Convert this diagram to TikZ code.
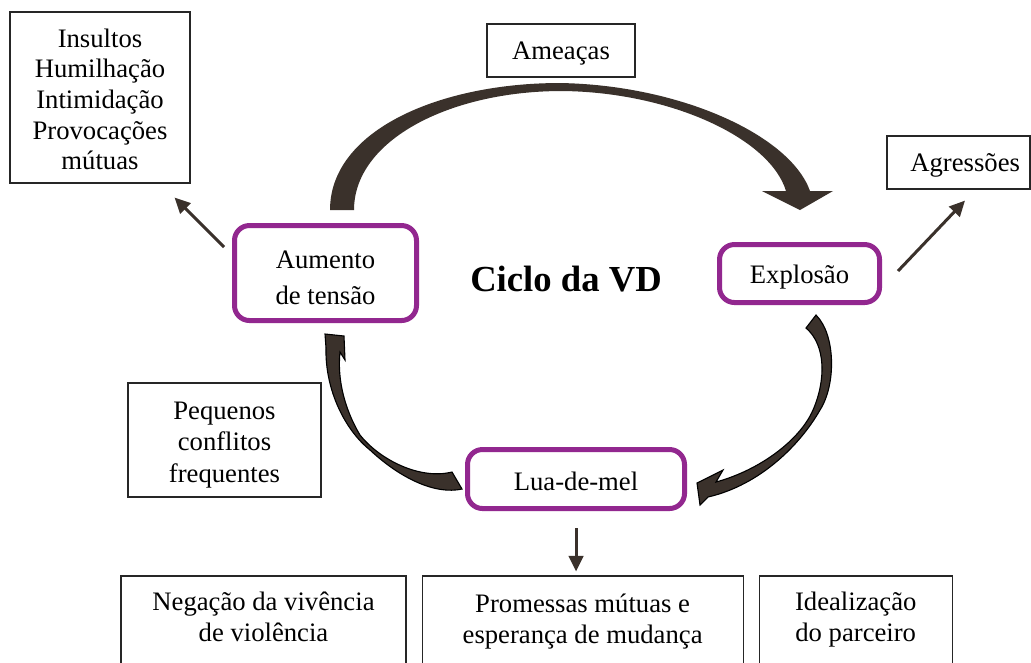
\documentclass[tikz,border=0pt]{standalone}
\usepackage{fontspec}
\setmainfont{Liberation Serif}
\usetikzlibrary{arrows.meta, positioning}
\definecolor{vdpurple}{RGB}{146,39,143}
\definecolor{vdbrown}{RGB}{58,49,43}
\tikzset{
  phase/.style={draw=vdpurple, line width=2.25pt, rounded corners=6.75pt, align=center, inner sep=0pt},
  note/.style={draw=black!85, line width=0.5pt, align=center, inner sep=0pt},
  link/.style={vdbrown, line width=1.35pt, -{Triangle[length=7pt,width=6.5pt]}},
  bigarrow/.style={fill=vdbrown, draw=black, line width=0.5pt}
}

\begin{document}
\begin{tikzpicture}[x=0.45pt, y=-0.45pt, font=\fontsize{12}{13.8}\selectfont]
          \clip (0,0) rectangle (1031,662);
          \fill[white] (0,0) rectangle (1031,662);

          \node[phase, minimum width=81.9pt, minimum height=42.75pt, text height=35.675pt, text depth=7.075pt, font=\fontsize{12}{16.2}\selectfont] (aum) at (325.5,273) {Aumento\\de tensão};
          \node[phase, minimum width=72pt, minimum height=26.1pt, text height=17.65pt, text depth=8.45pt] (exp) at (799.5,273.5) {Explosão};
          \node[phase, minimum width=97.65pt, minimum height=26.55pt, text height=18.275pt, text depth=8.275pt] (lua) at (576,479) {Lua-de-mel};
          \node[font=\bfseries\fontsize{16.5}{19}\selectfont] (tit) at (566,279) {Ciclo da VD};

          \node[note, minimum width=81pt, minimum height=76.95pt, text height=71.075pt, text depth=5.875pt] (ins) at (100,97.5) {Insultos\\Humilhação\\Intimidação\\Provocações\\mútuas};
          \node[note, minimum width=66.6pt, minimum height=23.85pt, text height=15.975pt, text depth=7.875pt] (ame) at (561,50.5) {Ameaças};
          \node[note, minimum height=23.85pt, text height=16.125pt, text depth=7.725pt, inner xsep=4.5pt, text width=55.35pt, align=right] (agr) at (958.5,162.5) {Agressões};
          \node[note, minimum width=86.85pt, minimum height=51.3pt, text height=44.75pt, text depth=6.55pt, font=\fontsize{12}{14.2}\selectfont] (peq) at (224.5,440) {Pequenos\\conflitos\\frequentes};
          \node[note, minimum width=128.25pt, minimum height=40.5pt, text height=29.52pt, text depth=10.98pt] (neg) at (263.5,621) {Negação da vivência\\de violência};
          \node[note, minimum width=144.45pt, minimum height=40.5pt, text height=30.42pt, text depth=10.08pt, right=6.75pt of neg] (pro) {Promessas mútuas e\\esperança de mudança};
          \node[note, minimum width=86.85pt, minimum height=40.5pt, text height=29.52pt, text depth=10.98pt, right=6.75pt of pro] (ide) {Idealização\\do parceiro};

          % big arcs of the cycle
          \fill[vdbrown] (330,210) .. controls (330,130) and (440,83) .. (560,83) .. controls (680,85) and (790,135) .. (810,191) -- (833,191) -- (800,210) -- (762,191) -- (786,191) .. controls (770,138) and (670,92) .. (562,91) .. controls (450,91) and (354,140) .. (354,210) -- cycle;
          \filldraw[bigarrow] (816,315) .. controls (836,335) and (836,385) .. (820,410) .. controls (800,445) and (760,485) .. (708,497) -- (700,505) -- (697,483) -- (723,470) -- (716,482) .. controls (760,470) and (800,440) .. (813,410) .. controls (826,380) and (826,345) .. (806,328) -- cycle;
          \filldraw[bigarrow] (452,472) .. controls (420,480) and (380,460) .. (360,435) .. controls (345,410) and (337,380) .. (340,352) -- (345,360) -- (344,336) -- (325,334) -- (326,348) .. controls (325,390) and (345,430) .. (370,450) .. controls (400,478) and (435,495) .. (462,489) -- cycle;

          \draw[link] ([shift={(-8,24)}]aum.north west) -- ([shift={(-16,14)}]ins.south east);
          \draw[link] ([shift={(16,-2.5)}]exp.east) -- ([shift={(6.5,11)}]agr.south);
          \draw[link, shorten <=7.65pt, shorten >=1.8pt] (lua.south) -- (lua.south |- pro.north);
    \end{tikzpicture}
\end{document}
